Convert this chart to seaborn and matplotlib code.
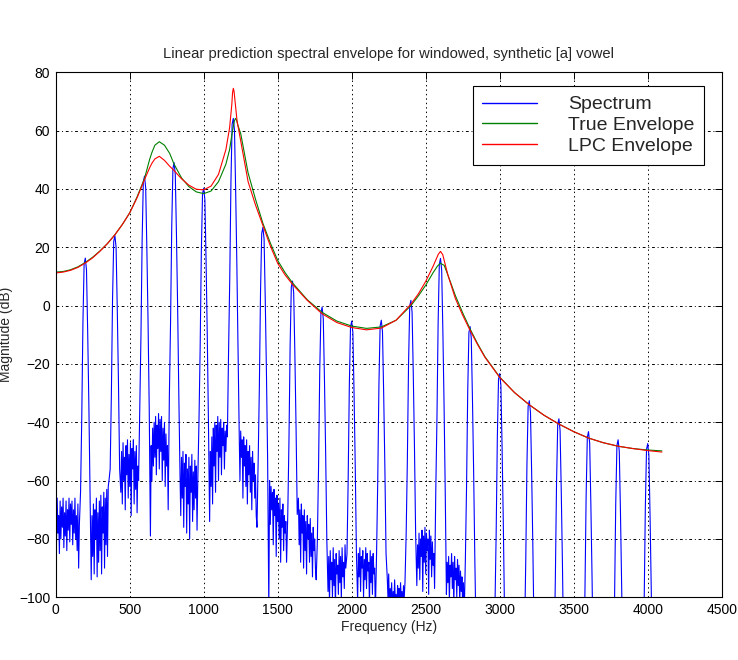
import matplotlib
matplotlib.use("Agg")
import matplotlib.pyplot as plt
import numpy as np
import pandas as pd
import seaborn as sns

# ---------------- data ----------------
# True (green) and LPC (red) spectral envelopes (Hz, dB)
true_env_freq = [0, 50, 100, 150, 200, 250, 300, 350, 400, 450, 500, 550, 600, 635, 650, 670,
                 700, 735, 770, 800, 850, 900, 950, 1000, 1050, 1100, 1150, 1175, 1190, 1200, 1207, 1215,
                 1222, 1230, 1250, 1300, 1350, 1400, 1450, 1500, 1550, 1600, 1700, 1800, 1900, 2000,
                 2100, 2200, 2300, 2400, 2450, 2500, 2550, 2580, 2600, 2625, 2650, 2700, 2750, 2800,
                 2850, 2900, 3000, 3100, 3200, 3300, 3400, 3500, 3600, 3700, 3800, 3900, 4000, 4096]
true_env_db = [11.5, 11.7, 12.3, 13.3, 14.8, 16.6, 18.8, 21.3, 24.3, 27.8, 31.8, 37.3, 43.6, 50.2, 52.5, 55.0,
               56.2, 55.0, 52.2, 48.5, 43.8, 40.8, 39.0, 38.4, 39.3, 42.5, 48.5, 53.5, 58.5, 61.5, 63.3, 64.2,
               63.6, 62.0, 59.0, 45.5, 36.5, 28.2, 21.5, 15.5, 11.3, 7.8, 2.0, -2.3, -5.3, -7.0,
               -7.8, -7.3, -5.0, 0.0, 3.3, 7.0, 11.3, 13.6, 14.5, 13.8, 10.5, 3.5, -2.5, -8.0,
               -13.0, -17.5, -24.5, -29.8, -34.0, -37.6, -40.6, -43.2, -45.4, -47.0, -48.2, -49.0, -49.5, -49.8]

lpc_env_freq = [0, 50, 100, 150, 200, 250, 300, 350, 400, 450, 500, 550, 600, 635, 650, 670,
                700, 735, 770, 800, 850, 900, 950, 1000, 1050, 1100, 1150, 1175, 1190, 1195, 1200,
                1205, 1210, 1225, 1250, 1300, 1350, 1400, 1450, 1500, 1550, 1600, 1700, 1800, 1900,
                2000, 2100, 2200, 2300, 2400, 2450, 2500, 2550, 2585, 2600, 2615, 2650, 2700, 2750,
                2800, 2850, 2900, 3000, 3100, 3200, 3300, 3400, 3500, 3600, 3700, 3800, 3900, 4000, 4096]
lpc_env_db = [11.2, 11.5, 12.1, 13.1, 14.6, 16.4, 18.7, 21.3, 24.3, 27.8, 31.8, 37.0, 43.2, 47.3, 48.8, 50.3,
              51.2, 49.8, 47.8, 46.3, 43.5, 41.3, 39.9, 39.7, 41.0, 45.0, 53.5, 61.0, 69.0, 73.0, 74.5,
              73.5, 71.0, 63.5, 56.5, 42.5, 34.5, 27.5, 20.5, 14.5, 10.5, 7.3, 1.8, -2.8, -5.8,
              -7.5, -8.3, -7.7, -5.0, 0.5, 4.0, 8.3, 13.5, 17.6, 18.6, 17.5, 10.5, 2.5, -3.3,
              -8.5, -13.3, -17.7, -24.6, -29.8, -34.0, -37.6, -40.6, -43.2, -45.4, -47.0, -48.2, -49.0, -49.7, -50.2]

# Spectrum: harmonic peaks
harm_freq = [200, 400, 600, 800, 1000, 1200, 1400, 1600, 1800, 2000,
             2200, 2400, 2600, 2800, 3000, 3200, 3400, 3600, 3800, 4000]
harm_peak_db = [16.3, 24.0, 44.4, 49.0, 40.3, 64.2, 26.8, 8.4, -0.5, -5.3,
                -5.0, 1.8, 16.2, -7.2, -23.3, -32.6, -38.8, -43.2, -46.0, -47.3]
# shape of each harmonic lobe (offset in Hz, level relative to the peak in dB)
lobe_offset_hz = [-32, -24, -16, -8, 0, 8, 16, 24, 32]
lobe_rel_db = [-80, -55, -22, -2, 0, -4, -25, -50, -80]

# noise floor between the harmonics (values every 5 Hz)
floor_start = [-70, -82, -66, -78, -72, -85, -67, -80, -69, -76, -66, -83, -71, -79, -67, -84, -70,
               -77, -66, -81, -68, -75, -67, -82, -70, -78, -66, -80, -72, -84, -68, -90, -75]  # 0..160 Hz
gap_offset_hz = [40, 45, 50, 55, 60, 65, 70, 75, 80, 85, 90, 95, 100, 105, 110, 115, 120,
                 125, 130, 135, 140, 145, 150, 155, 160]
floor_hidden = [-112, -118, -114, -120, -113, -117, -115, -119, -112, -116, -118, -114, -120,
                -113, -117, -115, -119, -112, -116, -118, -114, -120, -113, -117, -115]
floor_gaps = [
    [-94, -72, -86, -68, -92, -70, -80, -66, -93, -71, -88, -67, -84, -65, -92, -69, -78, -64, -90, -66, -82, -63, -86, -62, -60],  # 200-400
    [-64, -50, -68, -47, -60, -52, -70, -48, -58, -46, -66, -51, -62, -47, -72, -49, -56, -46, -68, -50, -63, -48, -71, -55, -60],  # 400-600
    [-79, -48, -60, -42, -55, -40, -52, -38, -58, -41, -49, -37, -56, -39, -50, -38, -60, -42, -53, -40, -62, -44, -55, -48, -70],  # 600-800
    [-58, -72, -52, -66, -50, -76, -54, -62, -51, -78, -56, -68, -52, -80, -55, -64, -51, -74, -57, -70, -53, -66, -55, -77, -60],  # 800-1000
    [-74, -50, -62, -45, -68, -42, -55, -40, -64, -41, -50, -38, -60, -40, -52, -39, -58, -42, -48, -40, -56, -43, -50, -41, -45],  # 1000-1200
    [-44, -60, -43, -52, -46, -66, -45, -55, -48, -62, -46, -68, -50, -58, -48, -64, -52, -70, -50, -60, -54, -66, -58, -72, -76],  # 1200-1400
    [-104, -60, -75, -62, -70, -64, -82, -63, -72, -66, -86, -65, -74, -68, -80, -66, -88, -70, -76, -68, -84, -72, -78, -74, -88],  # 1400-1600
    [-66, -82, -70, -88, -68, -78, -72, -90, -70, -84, -74, -92, -72, -80, -75, -88, -73, -86, -78, -93, -76, -84, -80, -90, -94],  # 1600-1800
    [-98, -86, -102, -84, -94, -88, -100, -83, -96, -87, -104, -85, -92, -89, -99, -84, -95, -86, -101, -83, -93, -88, -97, -82, -90],  # 1800-2000
    [-101, -85, -93, -83, -98, -86, -90, -84, -100, -87, -94, -83, -97, -85, -91, -88, -103, -84, -95, -86, -99, -85, -92, -90, -105],  # 2000-2200
    [-93, -100, -92, -104, -97, -101, -95, -106, -98, -103, -94, -102, -99, -105, -96, -100, -97, -104, -95, -101, -98, -103, -96, -100, -95],  # 2200-2400
    [-96, -82, -90, -78, -94, -80, -86, -77, -98, -79, -88, -76, -92, -78, -84, -80, -99, -77, -87, -79, -93, -81, -89, -85, -97],  # 2400-2600
    [-99, -88, -95, -86, -101, -89, -93, -85, -97, -88, -103, -86, -94, -90, -100, -87, -96, -89, -102, -91, -98, -93, -104, -95, -106],  # 2600-2800
    floor_hidden, floor_hidden, floor_hidden, floor_hidden, floor_hidden, floor_hidden,  # 2800-4000
]
tail_offset_hz = [40, 50, 60, 70, 80, 90]
floor_tail = [-115, -118, -114, -120, -116, -117]   # after 4000 Hz

x_ticks = [0, 500, 1000, 1500, 2000, 2500, 3000, 3500, 4000, 4500]
y_ticks = [-100, -80, -60, -40, -20, 0, 20, 40, 60, 80]

# ---------------- assemble spectrum series ----------------
spec_f = list(range(0, 165, 5))
spec_db = list(floor_start)
for i, (h, p) in enumerate(zip(harm_freq, harm_peak_db)):
    spec_f += [h + o for o in lobe_offset_hz]
    spec_db += [p + r for r in lobe_rel_db]
    if i < len(floor_gaps):
        spec_f += [h + o for o in gap_offset_hz]
        spec_db += floor_gaps[i]
    else:
        spec_f += [h + o for o in tail_offset_hz]
        spec_db += floor_tail

spec_df = pd.DataFrame({"f": spec_f, "db": spec_db})
true_df = pd.DataFrame({"f": true_env_freq, "db": true_env_db})
lpc_df = pd.DataFrame({"f": lpc_env_freq, "db": lpc_env_db})

# ---------------- plotting ----------------
sns.set_style("white")
plt.rcParams['font.family'] = ['Liberation Sans', 'DejaVu Sans']
plt.rcParams['lines.scale_dashes'] = False

fig = plt.figure(figsize=(7.38, 6.60), dpi=100)
ax = fig.add_axes([55.7 / 738, (660 - 597.3) / 660, 666 / 738, 525 / 660])

lw = 0.8
sns.lineplot(data=spec_df, x="f", y="db", color="#0000ff", lw=lw, estimator=None,
             sort=False, ax=ax, label="Spectrum")
sns.lineplot(data=true_df, x="f", y="db", color="#008000", lw=lw, estimator=None,
             sort=False, ax=ax, label="True Envelope")
sns.lineplot(data=lpc_df, x="f", y="db", color="#ff0000", lw=lw, estimator=None,
             sort=False, ax=ax, label="LPC Envelope")

ax.set_xlim(0, 4500)
ax.set_ylim(-100, 80)
ax.set_xticks(x_ticks)
ax.set_yticks(y_ticks)
ax.tick_params(direction="in", top=True, right=True, length=5, width=0.7,
               labelsize=10, colors="black", pad=4)
ax.xaxis.grid(True, linestyle=(0, (1.0, 2.2)), color="black", lw=0.7)
ax.yaxis.grid(True, linestyle=(0, (2.0, 2.0, 0.7, 2.0)), color="black", lw=0.7)
ax.set_axisbelow(True)
for s in ax.spines.values():
    s.set_visible(True)
    s.set_color("black")
    s.set_linewidth(0.8)

ax.set_xlabel("Frequency (Hz)", fontsize=10, labelpad=2)
ax.set_ylabel("Magnitude (dB)", fontsize=10, labelpad=4)
ax.set_title("Linear prediction spectral envelope for windowed, synthetic [a] vowel",
             fontsize=10.6, pad=10)

leg = ax.legend(loc="upper right", bbox_to_anchor=(0.9734, 0.9739), fontsize=14,
                frameon=True, fancybox=False, edgecolor="black", framealpha=1,
                handlelength=2.8, handletextpad=1.6, labelspacing=0.16,
                borderpad=0.5, borderaxespad=0)
leg.get_frame().set_linewidth(0.8)
for line in leg.get_lines():
    line.set_linewidth(1.0)

fig.savefig("out.png", dpi=100, facecolor="white")
